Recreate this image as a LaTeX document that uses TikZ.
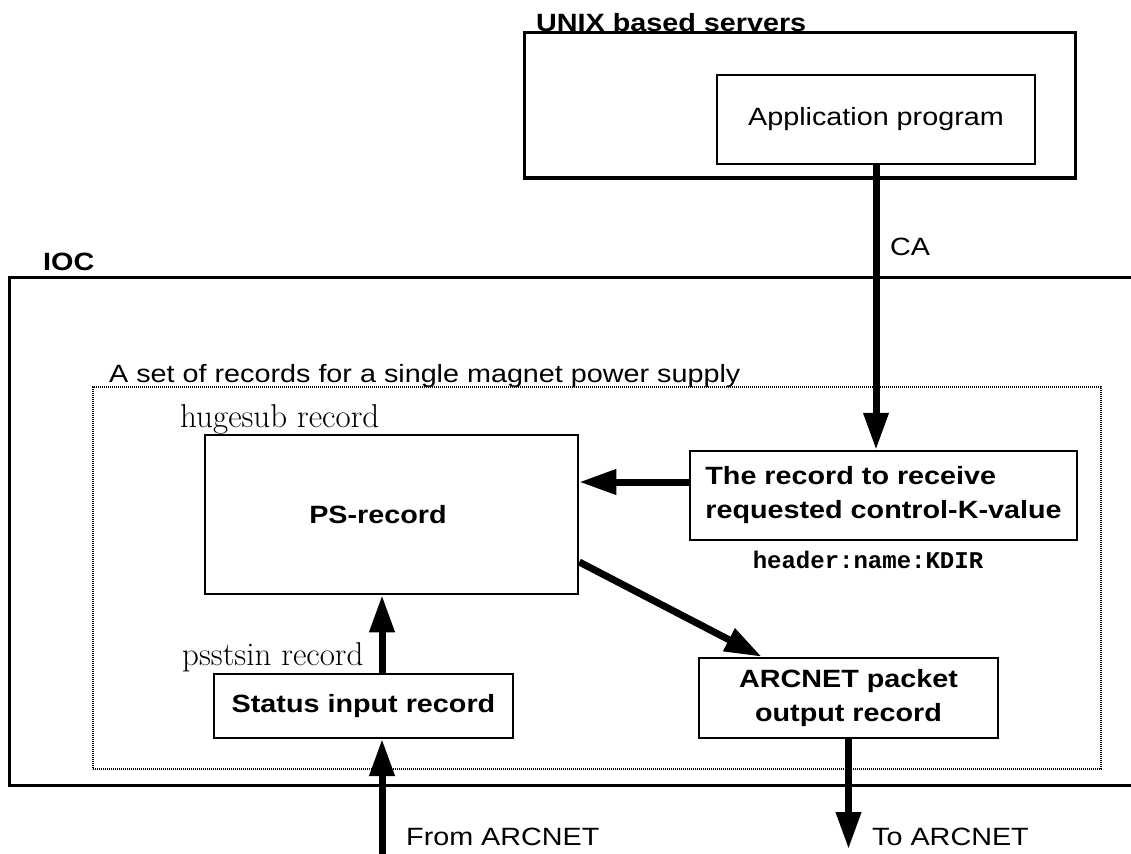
\documentclass[tikz,border=0pt]{standalone}
\usepackage{fontspec}
\usetikzlibrary{arrows.meta}
\newfontfamily\sansf{Liberation Sans}[FakeStretch=1.15]
\newfontfamily\monof{Liberation Mono}
\begin{document}
\begin{tikzpicture}[x=1pt,y=-1pt,
  box/.style={draw, rectangle, inner sep=0pt, line width=2.5pt},
  outerbox/.style={draw, rectangle, inner sep=0pt, line width=3pt},
  dotbox/.style={draw, rectangle, inner sep=0pt, line width=1.6pt, dash pattern=on 1.2pt off 0.8pt},
  sf/.style={font=\sansf\fontsize{25}{34}\selectfont},
  sfb/.style={font=\sansf\bfseries\fontsize{25}{34}\selectfont},
  rm/.style={font=\fontsize{33}{36}\selectfont},
  tt/.style={font=\monof\bfseries\fontsize{24}{28}\selectfont},
  lbl/.style={inner sep=0pt, anchor=base west},
  arr/.style={line width=7pt, -{Triangle[length=37pt,width=24pt]}},
]
\useasboundingbox (0,0) rectangle (1131,853);
\begin{scope}
\clip (0,0) rectangle (1131,853);
% outer boxes
\node (unix) [outerbox, minimum width=551pt, minimum height=145pt] at (799.5,105.5) {};
\node (ioc) [outerbox, minimum width=1136pt, minimum height=508pt] at (577,531) {};
\node (set) [dotbox, minimum width=1008pt, minimum height=382pt] at (597,578) {};
% inner boxes
\node (app) [box, line width=2pt, minimum width=318pt, minimum height=89pt, sf] at (876,119.5) {Application program};
\node (ps) [box, minimum width=373pt, minimum height=159pt, sfb] at (391.5,514.5) {\hspace*{-27pt}PS-record};
\node (rec) [box, minimum width=387pt, minimum height=89pt, sfb, align=left] at (883.5,495.5) {The record to receive\\requested control-K-value};
\node (arc) [box, minimum width=299pt, minimum height=80pt, sfb, align=center] at (848.5,698) {ARCNET packet\\output record};
\node (st) [box, line width=2pt, minimum width=299pt, minimum height=64pt, sfb] at (363.5,706) {Status input record};
% labels
\node (unixl) [lbl, sfb] at (536,32) {UNIX based servers};
\node (iocl) [lbl, sfb] at (43,270) {IOC};
\node (cal) [lbl, sf] at (890,255) {CA};
\node (setl) [lbl, sf] at (109,382) {A set of records for a single magnet power supply};
\node (hugel) [lbl, rm] at (180,427) {hugesub record};
\node (psstl) [lbl, rm] at (182,665) {psstsin record};
\node (kdir) [inner sep=0pt, anchor=base, tt] at (868,568) {header:name:KDIR};
\node (fromal) [lbl, sf] at (406,845) {From ARCNET};
\node (toal) [lbl, sf] at (872,845) {To ARCNET};
\coordinate (froma) at (382,860);
\coordinate (toa) at (848.5,849);
% connectors
\draw[arr] (app.south) -- (app.south |- rec.north);
\draw[arr] ([yshift=13.5pt]rec.west) -- ([yshift=13.5pt]rec.west -| ps.east);
\draw[arr] ([yshift=-47.5pt]ps.east) -- ([xshift=64pt]arc.north west);
\draw[arr] ([xshift=18.5pt]st.north) -- ([xshift=18.5pt]st.north |- ps.south);
\draw[arr] (froma) -- (froma |- st.south);
\draw[arr] (arc.south) -- (toa);
\end{scope}
\end{tikzpicture}
\end{document}
